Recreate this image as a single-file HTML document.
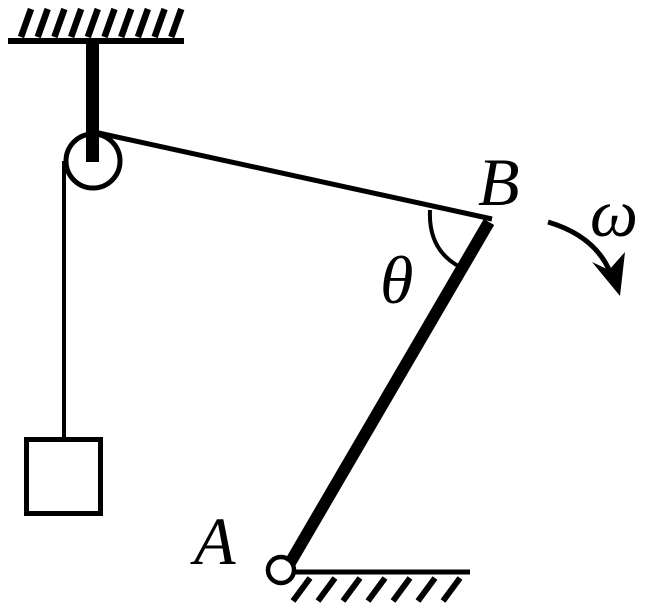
<!DOCTYPE html>
<html><head><style>body{margin:0;background:#fff}svg{display:block}text{font-family:"Liberation Serif",serif;font-style:italic}</style></head><body>
<svg width="657" height="613" viewBox="0 0 657 613" xmlns="http://www.w3.org/2000/svg">
<g stroke="#000" fill="none">
<line x1="8" y1="41" x2="184" y2="41" stroke-width="6"/>
<g stroke-width="6.5">
<line x1="31" y1="9" x2="21" y2="37"/><line x1="47.7" y1="9" x2="37.7" y2="37"/><line x1="64.4" y1="9" x2="54.4" y2="37"/><line x1="81.1" y1="9" x2="71.1" y2="37"/><line x1="97.8" y1="9" x2="87.8" y2="37"/><line x1="114.5" y1="9" x2="104.5" y2="37"/><line x1="131.2" y1="9" x2="121.2" y2="37"/><line x1="147.9" y1="9" x2="137.9" y2="37"/><line x1="164.6" y1="9" x2="154.6" y2="37"/><line x1="181.3" y1="9" x2="171.3" y2="37"/>
</g>
<line x1="92.5" y1="41" x2="92.5" y2="162" stroke-width="13"/>
<circle cx="93" cy="161" r="27" stroke-width="5"/>
<line x1="94" y1="132" x2="492" y2="219" stroke-width="5"/>
<line x1="64" y1="161" x2="64" y2="439" stroke-width="4"/>
<rect x="26.5" y="439.5" width="74" height="74" stroke-width="5"/>
<line x1="489" y1="222" x2="290" y2="563" stroke-width="12"/>
<circle cx="281" cy="570" r="13" stroke-width="4.5"/>
<line x1="294" y1="572" x2="470" y2="572" stroke-width="5"/>
<g stroke-width="6">
<line x1="310" y1="578" x2="293" y2="601"/><line x1="335" y1="578" x2="318" y2="601"/><line x1="360" y1="578" x2="343" y2="601"/><line x1="385" y1="578" x2="368" y2="601"/><line x1="410" y1="578" x2="393" y2="601"/><line x1="435" y1="578" x2="418" y2="601"/><line x1="460" y1="578" x2="443" y2="601"/>
</g>
<path d="M430,210 Q428,250 460,267" stroke-width="4"/>
<path d="M548,222 Q595,236 610,272" stroke-width="5"/>
</g>
<polygon points="592,262 609,270 625,252 620,296" fill="#000"/>
<g font-size="68" fill="#000">
<text x="478" y="205">B</text>
<text x="380" y="303">θ</text>
<text x="590" y="236">ω</text>
<text x="194" y="564">A</text>
</g>
</svg>
</body></html>
